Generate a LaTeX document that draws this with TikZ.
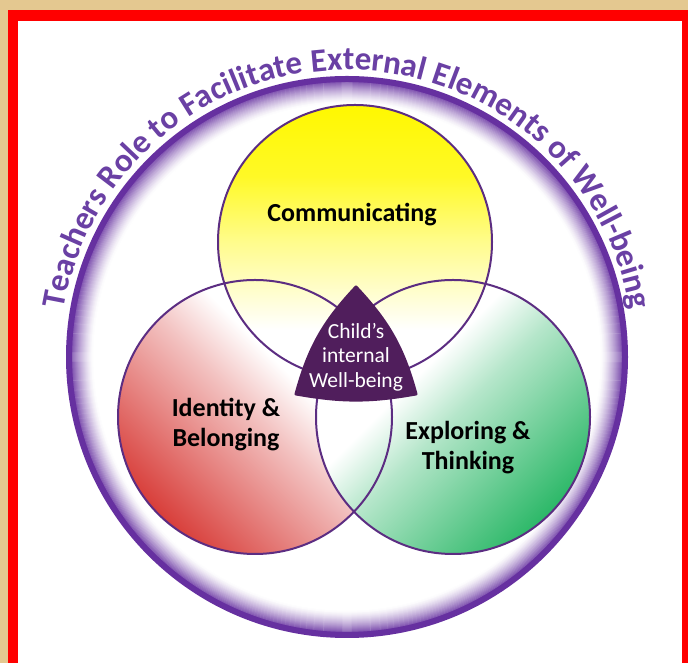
\documentclass[tikz,border=0pt]{standalone}
\usepackage{fontspec}
\setmainfont{Carlito}
\usetikzlibrary{decorations.text}
\definecolor{parch}{RGB}{228,200,144}
\definecolor{framered}{RGB}{255,0,0}
\definecolor{ringpurple}{RGB}{102,48,160}
\definecolor{textpurple}{RGB}{106,64,164}
\definecolor{vennline}{RGB}{92,45,130}
\definecolor{coreplum}{RGB}{80,30,92}
\definecolor{yelc}{RGB}{255,248,0}
\definecolor{redc}{RGB}{216,62,58}
\definecolor{greenc}{RGB}{44,184,104}
\colorlet{yelmid}{yelc!45!white}
\colorlet{yelhi}{yelc!85!white}
\colorlet{redmid}{redc!32!white}
\colorlet{greenmid}{greenc!35!white}
\pgfdeclareverticalshading{yelshade}{100bp}{color(0bp)=(white); color(34bp)=(white); color(50bp)=(yelmid); color(62bp)=(yelhi); color(75bp)=(yelc); color(100bp)=(yelc)}
\pgfdeclarehorizontalshading{redshade}{100bp}{color(0bp)=(redc); color(25bp)=(redc); color(50bp)=(redmid); color(60bp)=(white); color(100bp)=(white)}
\pgfdeclarehorizontalshading{greenshade}{100bp}{color(0bp)=(greenc); color(25bp)=(greenc); color(50bp)=(greenmid); color(60bp)=(white); color(100bp)=(white)}
\newcommand\arcfontsz{\fontsize{33}{40}\selectfont\bfseries}
\tikzset{
  vennring/.style={vennline, line width=2pt},
  lbl/.style={inner sep=0pt, align=center, text=black, font=\fontsize{26}{30}\selectfont\bfseries},
  corelbl/.style={inner sep=0pt, align=center, text=white, font=\fontsize{21.5}{24.5}\selectfont},
}
\begin{document}
\begin{tikzpicture}[x=1pt,y=1pt]
\useasboundingbox (0,0) rectangle (688,663);
% background and frame
\fill[parch] (0,0) rectangle (688,663);
\fill[framered] (8,0) rectangle (688,653);
\fill[white] (18,0) rectangle (682,642);
% outer ring
\coordinate (ringc) at (347,306);
\foreach \i in {0,...,22}{
  \pgfmathtruncatemacro\pc{85*(1-\i/22)^1.4}
  \draw[line width=1.4pt, color=ringpurple!\pc!white] (ringc) circle[radius=275-\i];
}
\draw[ringpurple, line width=6pt] (ringc) circle[radius=278];
% arc text
\path[decorate, decoration={text along path, text align=center, text color=textpurple,
  text={|\arcfontsz|Teachers Role to Facilitate External Elements of Well-being}}]
  (ringc) ++(175:287) arc[start angle=175, end angle=5, radius=287];
% Venn circles
\coordinate (ctop) at (355,421);
\coordinate (cleft) at (255,246);
\coordinate (cright) at (453,246);
\shade[shading=redshade, shading angle=45] (cleft) circle[radius=137];
\shade[shading=greenshade, shading angle=135] (cright) circle[radius=137];
\shade[shading=yelshade] (ctop) circle[radius=137];
\draw[vennring] (cleft) circle[radius=137];
\draw[vennring] (cright) circle[radius=137];
\draw[vennring] (ctop) circle[radius=137];
% central triangle
\coordinate (tT) at (356,376);
\coordinate (tL) at (296,269);
\coordinate (tR) at (416,269);
\filldraw[fill=coreplum, draw=coreplum, line width=3pt, line join=round]
  (tL) to[bend left=14] (tT) to[bend left=14] (tR) to[bend left=10] (tL) -- cycle;
% labels
\node[lbl] (comm) at (352,448) {Communicating};
\node[lbl] (ident) at (226,238) {Identity \&\\Belonging};
\node[lbl] (explo) at (468,215) {Exploring \&\\Thinking};
\node[corelbl] (child) at (356,306) {Child’s\\internal\\Well-being};
\end{tikzpicture}
\end{document}
